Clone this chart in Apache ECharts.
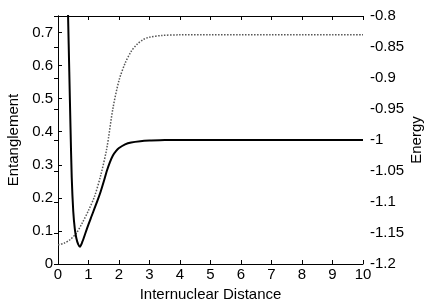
<!DOCTYPE html>
<html>
<head>
<meta charset="utf-8">
<script src="https://cdn.jsdelivr.net/npm/echarts@6/dist/echarts.min.js"></script>
<style>html,body{margin:0;padding:0;background:#fff;}#c{width:431px;height:300px;}</style>
</head>
<body>
<div id="c"></div>
<script>
// Energy (solid, right axis) vs internuclear distance
const energyX = [0.30, 0.33, 0.37, 0.41, 0.45, 0.50, 0.55, 0.60, 0.66, 0.72, 0.80, 0.90, 1.0, 1.1, 1.2, 1.3, 1.4, 1.5, 1.6, 1.7, 1.8, 1.9, 2.0, 2.2, 2.4, 2.7, 3.0, 3.5, 4, 5, 6, 7, 8, 9, 10];
const energyY = [-0.74, -0.80, -0.89, -0.98, -1.06, -1.115, -1.143, -1.158, -1.168, -1.172, -1.164, -1.150, -1.136, -1.123, -1.110, -1.097, -1.083, -1.067, -1.050, -1.036, -1.025, -1.018, -1.013, -1.007, -1.004, -1.002, -1.001, -1.0, -1.0, -1.0, -1.0, -1.0, -1.0, -1.0, -1.0];
// Entanglement (dotted, left axis)
const entX = [0, 0.2, 0.4, 0.6, 0.8, 1.0, 1.2, 1.4, 1.6, 1.8, 2.0, 2.2, 2.4, 2.6, 2.8, 3.0, 3.4, 4, 5, 6, 7, 8, 9, 10];
const entY = [0.058, 0.063, 0.074, 0.093, 0.125, 0.162, 0.205, 0.268, 0.35, 0.47, 0.555, 0.607, 0.643, 0.665, 0.679, 0.686, 0.691, 0.693, 0.693, 0.693, 0.693, 0.693, 0.693, 0.693];
const xTicks = [0,1,2,3,4,5,6,7,8,9,10];

const font = 'Liberation Sans, Arial, sans-serif';
const axisLineStyle = {color: '#000', width: 1};
const chart = echarts.init(document.getElementById('c'));
chart.setOption({
  animation: false,
  backgroundColor: '#fff',
  grid: {left: 58, right: 68, top: 16, bottom: 36, containLabel: false, outerBoundsMode: 'none'},
  xAxis: [{
    type: 'value', min: 0, max: 10, interval: 1, position: 'bottom',
    name: 'Internuclear Distance', nameLocation: 'middle', nameGap: 19,
    nameTextStyle: {fontFamily: font, fontSize: 15, color: '#000'},
    axisLine: {show: true, lineStyle: axisLineStyle},
    axisTick: {show: true, inside: true, length: 4, lineStyle: {color: '#000'}},
    axisLabel: {fontFamily: font, fontSize: 15, color: '#000', margin: 3,
      formatter: v => xTicks.includes(v) ? String(v) : ''},
    splitLine: {show: false}
  }, {
    type: 'value', min: 0, max: 10, interval: 1, position: 'top',
    axisLine: {show: true, lineStyle: axisLineStyle},
    axisTick: {show: true, inside: true, length: 4, lineStyle: {color: '#000'}},
    axisLabel: {show: false}, splitLine: {show: false}
  }],
  yAxis: [{
    type: 'value', min: 0, max: 0.75, interval: 0.1, position: 'left',
    name: 'Entanglement', nameLocation: 'middle', nameGap: 36, nameRotate: 90,
    nameTextStyle: {fontFamily: font, fontSize: 15, color: '#000'},
    axisLine: {show: true, lineStyle: axisLineStyle},
    axisTick: {show: true, inside: true, length: 4, lineStyle: {color: '#000'}},
    axisLabel: {fontFamily: font, fontSize: 15, color: '#000', margin: 5, showMaxLabel: false},
    splitLine: {show: false}
  }, {
    type: 'value', min: -1.2, max: -0.8, interval: 0.05, position: 'right',
    name: 'Energy', nameLocation: 'middle', nameGap: 46, nameRotate: 90, nameMoveOverlap: false,
    nameTextStyle: {fontFamily: font, fontSize: 15, color: '#000'},
    axisLine: {show: true, lineStyle: axisLineStyle},
    axisTick: {show: true, inside: true, length: 4, lineStyle: {color: '#000'}},
    axisLabel: {fontFamily: font, fontSize: 15, color: '#000', margin: 7,
      formatter: v => String(Math.round(v * 100) / 100)},
    splitLine: {show: false}
  }],
  series: [{
    type: 'line', xAxisIndex: 0, yAxisIndex: 0, showSymbol: false, smooth: 0.3,
    data: entX.map((x, i) => [x, entY[i]]),
    lineStyle: {color: '#555', width: 1.5, type: 'dotted'}, clip: true
  }, {
    type: 'line', xAxisIndex: 0, yAxisIndex: 1, showSymbol: false, smooth: 0.25,
    data: energyX.map((x, i) => [x, energyY[i]]),
    lineStyle: {color: '#000', width: 2}, clip: true
  }]
});
</script>
</body>
</html>
